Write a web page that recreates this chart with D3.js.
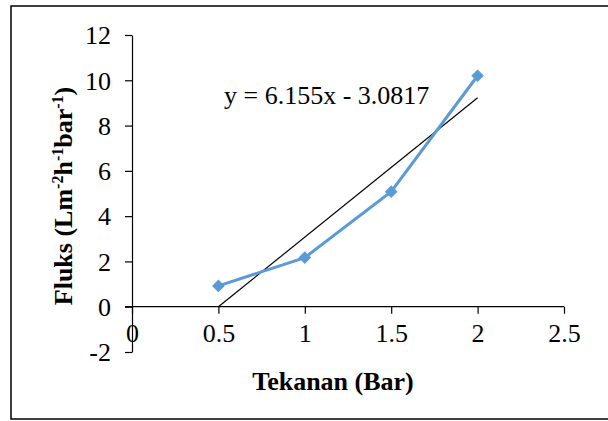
<!DOCTYPE html>
<html>
<head>
<meta charset="utf-8">
<script src="https://cdn.jsdelivr.net/npm/d3@7"></script>
<style>
  body { margin: 0; background: #fff; }
</style>
</head>
<body>
<div id="chart"></div>
<script>
// data
var tekanan = [0.5, 1, 1.5, 2];
var fluks = [0.92, 2.17, 5.08, 10.2];
var xTicks = [0, 0.5, 1, 1.5, 2, 2.5];
var yTicks = [-2, 0, 2, 4, 6, 8, 10, 12];
var slope = 6.155, intercept = -3.0817;
var trendX = [0.5, 2];

var serif = "'Liberation Serif', 'DejaVu Serif', serif";

var svg = d3.select("#chart").append("svg")
  .attr("width", 608).attr("height", 421)
  .style("font-family", serif);

// outer frame
svg.append("rect")
  .attr("x", 11).attr("y", 6).attr("width", 620).attr("height", 413)
  .attr("fill", "none").attr("stroke", "#000").attr("stroke-width", 1.5);

var x = d3.scaleLinear().domain([0, 2.5]).range([132, 564]);
var y = d3.scaleLinear().domain([-2, 12]).range([352, 35]);

var g = svg.append("g");

// y axis
var yAxis = g.append("g")
  .attr("transform", "translate(" + x(0) + ",0)")
  .call(d3.axisLeft(y).tickValues(yTicks).tickSize(7).tickSizeOuter(0).tickPadding(14).tickFormat(function(d) { return String(d); }));
yAxis.attr("font-family", null);
yAxis.selectAll("text").attr("font-size", "26px").attr("fill", "#000").attr("dy", "0.34em").style("font-family", serif);

// x axis sits at y=0
var xAxis = g.append("g")
  .attr("transform", "translate(0," + y(0) + ")")
  .call(d3.axisBottom(x).tickValues(xTicks).tickSize(7).tickSizeOuter(0).tickPadding(10).tickFormat(function(d) { return String(d); }));
xAxis.attr("font-family", null);
xAxis.selectAll("text").attr("font-size", "26px").attr("fill", "#000").style("font-family", serif);
xAxis.select(".domain").attr("d", "M" + (x(0) - 7) + ",0H" + x(2.5));

g.selectAll(".domain, .tick line").attr("stroke", "#000").attr("stroke-width", 1.2);

// linear trendline
g.append("line")
  .attr("x1", x(trendX[0])).attr("y1", y(slope * trendX[0] + intercept))
  .attr("x2", x(trendX[1])).attr("y2", y(slope * trendX[1] + intercept))
  .attr("stroke", "#000").attr("stroke-width", 1.2);

// data series
var pts = tekanan.map(function(d, i) { return [d, fluks[i]]; });
var line = d3.line()
  .x(function(d) { return x(d[0]); })
  .y(function(d) { return y(d[1]); });

g.append("path")
  .datum(pts)
  .attr("d", line)
  .attr("fill", "none").attr("stroke", "#5B9BD5").attr("stroke-width", 3);

g.selectAll(".pt")
  .data(pts)
  .enter().append("path")
  .attr("class", "pt")
  .attr("d", d3.symbol().type(d3.symbolSquare).size(80))
  .attr("transform", function(d) { return "translate(" + x(d[0]) + "," + y(d[1]) + ") rotate(45)"; })
  .attr("fill", "#5B9BD5");

// equation label
svg.append("text")
  .attr("x", 224).attr("y", 104)
  .attr("font-size", "26px")
  .text("y = 6.155x - 3.0817");

// axis titles
svg.append("text")
  .attr("x", 333).attr("y", 390)
  .attr("text-anchor", "middle")
  .attr("font-size", "26px").attr("font-weight", "bold")
  .text("Tekanan (Bar)");

var yt = svg.append("text")
  .attr("transform", "translate(72,196) rotate(-90)")
  .attr("text-anchor", "middle")
  .attr("font-size", "26px").attr("font-weight", "bold");
yt.append("tspan").text("Fluks (Lm");
yt.append("tspan").attr("font-size", "16px").attr("dy", "-9").text("-2");
yt.append("tspan").attr("dy", "9").text("h");
yt.append("tspan").attr("font-size", "16px").attr("dy", "-9").text("-1");
yt.append("tspan").attr("dy", "9").text("bar");
yt.append("tspan").attr("font-size", "16px").attr("dy", "-9").text("-1");
yt.append("tspan").attr("dy", "9").text(")");
</script>
</body>
</html>
